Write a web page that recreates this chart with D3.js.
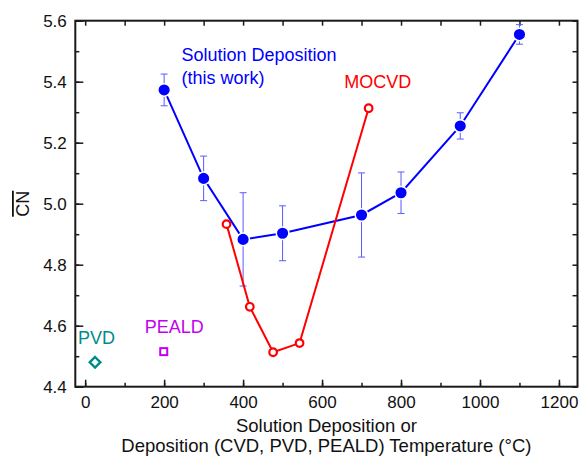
<!DOCTYPE html>
<html>
<head>
<meta charset="utf-8">
<script src="https://cdn.jsdelivr.net/npm/d3@7"></script>
<style>
  body { margin: 0; background: #fff; }
  text { font-family: "Liberation Sans", Arial, sans-serif; }
</style>
</head>
<body>
<div id="chart"></div>
<script>
var width = 580,
    height = 458;

// plot box (not "top": window.top is read-only)
var x0 = 75.3, x1 = 577.5, y0 = 20.7, y1 = 386.7;

// solution deposition (this work)
var solT   = [200, 300, 400, 500, 700, 800, 950, 1100];
var solCN  = [5.373, 5.083, 4.883, 4.903, 4.963, 5.036, 5.255, 5.555];
var solErr = [0.052, 0.073, 0.153, 0.09, 0.138, 0.068, 0.043, 0.032];

// MOCVD
var mocT  = [358, 417, 476, 543, 718];
var mocCN = [4.933, 4.662, 4.513, 4.543, 5.313];

// PVD and PEALD single points
var pvdT = [25],  pvdCN = [4.48];
var peaT = [199], peaCN = [4.515];

var xTicks = [0, 200, 400, 600, 800, 1000, 1200];
var yTicks = [4.4, 4.6, 4.8, 5.0, 5.2, 5.4, 5.6];

var x = d3.scaleLinear().domain([-25, 1247]).range([x0, x1]);
var y = d3.scaleLinear().domain([4.4, 5.6]).range([y1, y0]);

var svg = d3.select("#chart").append("svg")
    .attr("width", width)
    .attr("height", height);

// minor / major ticks, inward on all four sides
var xMinor = d3.range(0, 1201, 100),
    yMinor = d3.range(44, 57).map(function(d) { return d / 10; });

var axisColor = "#1a1a1a";

function styleTicks(g) {
  g.select(".domain").remove();
  g.selectAll("line").attr("stroke", axisColor).attr("stroke-width", 1.5);
}

svg.append("g").attr("transform", "translate(0," + y1 + ")")
  .call(d3.axisBottom(x).tickValues(xMinor).tickSize(-4).tickFormat(""))
  .call(styleTicks);
svg.append("g").attr("transform", "translate(0," + y1 + ")")
  .call(d3.axisBottom(x).tickValues(xTicks).tickSize(-7).tickFormat(d3.format("d")))
  .call(styleTicks)
  .call(function(g) {
    g.selectAll("text").attr("font-size", 17).attr("fill", "#111").attr("dy", "0.71em").attr("y", 9.5);
  });

svg.append("g").attr("transform", "translate(" + x0 + ",0)")
  .call(d3.axisLeft(y).tickValues(yMinor).tickSize(-4).tickFormat(""))
  .call(styleTicks);
svg.append("g").attr("transform", "translate(" + x0 + ",0)")
  .call(d3.axisLeft(y).tickValues(yTicks).tickSize(-8).tickFormat(d3.format(".1f")))
  .call(styleTicks)
  .call(function(g) {
    g.selectAll("text").attr("font-size", 17).attr("fill", "#111").attr("x", -8.5);
  });

svg.append("g").attr("transform", "translate(0," + y0 + ")")
  .call(d3.axisTop(x).tickValues(xMinor).tickSize(-5).tickFormat(""))
  .call(styleTicks);
svg.append("g").attr("transform", "translate(" + x1 + ",0)")
  .call(d3.axisRight(y).tickValues(yMinor).tickSize(-5).tickFormat(""))
  .call(styleTicks);

// frame
svg.append("rect")
  .attr("x", x0).attr("y", y0)
  .attr("width", x1 - x0).attr("height", y1 - y0)
  .attr("fill", "none").attr("stroke", axisColor).attr("stroke-width", 2);

var line = d3.line()
    .x(function(d) { return x(d[0]); })
    .y(function(d) { return y(d[1]); });

var sol = solT.map(function(t, i) { return [t, solCN[i], solErr[i]]; });
var moc = mocT.map(function(t, i) { return [t, mocCN[i]]; });

// error bars
var eb = svg.append("g").attr("stroke", "#5a5aff").attr("stroke-width", 1);
sol.forEach(function(d) {
  var cx = x(d[0]);
  eb.append("line").attr("x1", cx).attr("x2", cx).attr("y1", y(d[1] + d[2])).attr("y2", y(d[1] - d[2]));
  eb.append("line").attr("x1", cx - 3.5).attr("x2", cx + 3.5).attr("y1", y(d[1] + d[2])).attr("y2", y(d[1] + d[2]));
  eb.append("line").attr("x1", cx - 3.5).attr("x2", cx + 3.5).attr("y1", y(d[1] - d[2])).attr("y2", y(d[1] - d[2]));
});

// blue line and markers
svg.append("path")
  .attr("d", line(sol))
  .attr("stroke", "#0000ff")
  .attr("stroke-width", 2)
  .attr("fill", "none");

svg.append("g").selectAll("circle").data(sol).join("circle")
  .attr("cx", function(d) { return x(d[0]); })
  .attr("cy", function(d) { return y(d[1]); })
  .attr("r", 6.3)
  .attr("fill", "#0000ff")
  .attr("stroke", "#fff")
  .attr("stroke-width", 1.5);

// red MOCVD
svg.append("path")
  .attr("d", line(moc))
  .attr("stroke", "#ff0000")
  .attr("stroke-width", 2)
  .attr("fill", "none");

svg.append("g").selectAll("circle").data(moc).join("circle")
  .attr("cx", function(d) { return x(d[0]); })
  .attr("cy", function(d) { return y(d[1]); })
  .attr("r", 3.8)
  .attr("fill", "#fff")
  .attr("stroke", "#ff0000")
  .attr("stroke-width", 2.2);

// PVD diamond
svg.append("path")
  .attr("d", d3.symbol(d3.symbolDiamond2, 72)())
  .attr("transform", "translate(" + x(pvdT[0]) + "," + y(pvdCN[0]) + ")")
  .attr("fill", "none")
  .attr("stroke", "#008b8b")
  .attr("stroke-width", 2.4);

// PEALD square
svg.append("rect")
  .attr("x", x(peaT[0]) - 3.5).attr("y", y(peaCN[0]) - 3.5)
  .attr("width", 7).attr("height", 7)
  .attr("fill", "none")
  .attr("stroke", "#c400f0")
  .attr("stroke-width", 2);

// labels
var labels = [
  {t: "Solution Deposition", x: 244, y: 5.469, c: "#0000ff"},
  {t: "(this work)", x: 244, y: 5.394, c: "#0000ff"},
  {t: "MOCVD", x: 656, y: 5.379, c: "#ff0000"},
  {t: "PVD", x: -18, y: 4.54, c: "#008b8b"},
  {t: "PEALD", x: 151, y: 4.576, c: "#c400f0"}
];
svg.append("g").selectAll("text").data(labels).join("text")
  .attr("x", function(d) { return x(d.x); })
  .attr("y", function(d) { return y(d.y); })
  .attr("fill", function(d) { return d.c; })
  .attr("font-size", 18)
  .text(function(d) { return d.t; });

// axis titles
svg.append("text")
  .attr("x", (x0 + x1) / 2).attr("y", 432)
  .attr("text-anchor", "middle").attr("font-size", 18.5).attr("fill", "#111")
  .text("Solution Deposition or");
svg.append("text")
  .attr("x", (x0 + x1) / 2).attr("y", 452)
  .attr("text-anchor", "middle").attr("font-size", 18.5).attr("fill", "#111")
  .text("Deposition (CVD, PVD, PEALD) Temperature (°C)");

svg.append("text")
  .attr("transform", "translate(29," + y(5.0) + ") rotate(-90)")
  .attr("text-anchor", "middle").attr("font-size", 18).attr("fill", "#111")
  .style("text-decoration", "overline")
  .text("CN");
</script>
</body>
</html>
